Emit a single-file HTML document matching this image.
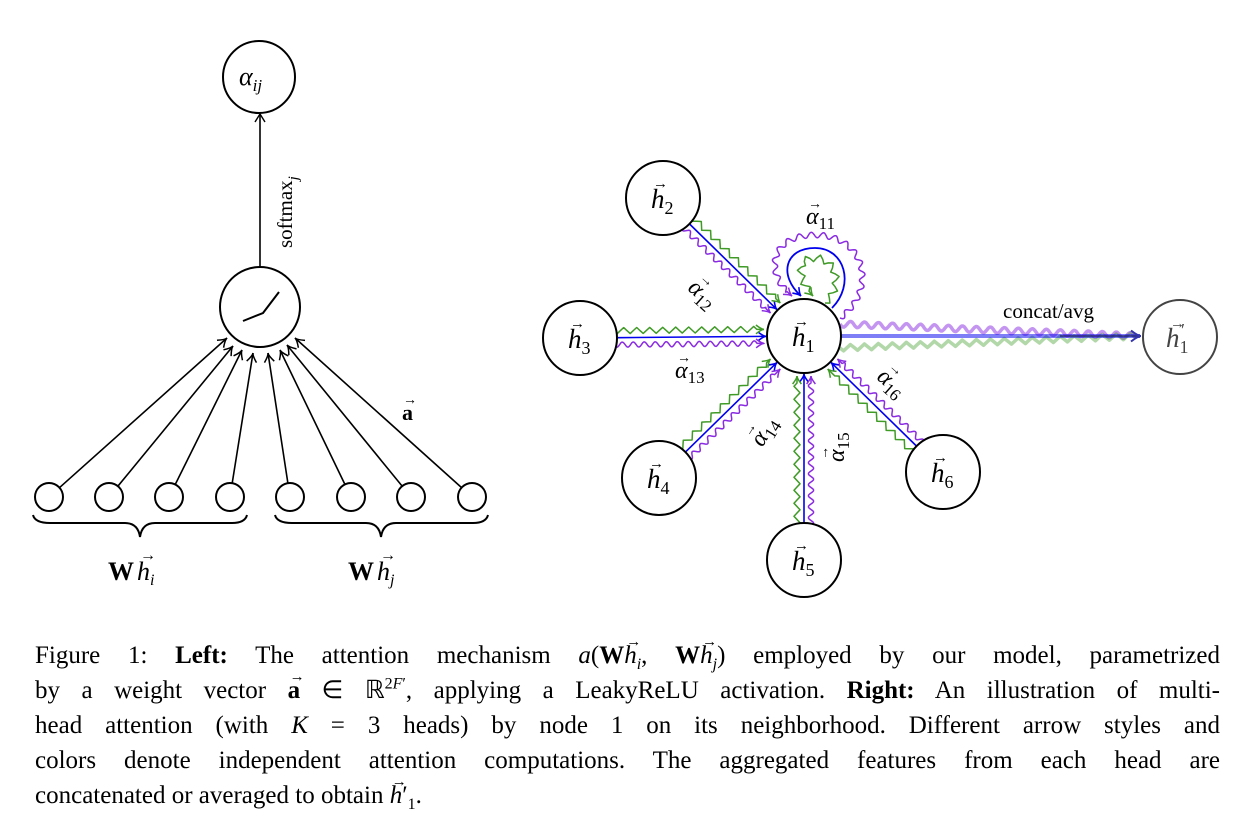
<!DOCTYPE html>
<html><head><meta charset="utf-8">
<style>
body{margin:0;background:#fff;width:1240px;height:836px;overflow:hidden;position:relative}
svg{position:absolute;left:0;top:0}
.m{font-family:"Liberation Serif",serif;font-style:italic}
.cap{position:absolute;left:35px;width:1185px;top:638px;font-family:"Liberation Serif",serif;font-size:25px;color:#000}
.cap div{height:35px;line-height:35px;text-align:justify;text-align-last:justify;white-space:nowrap}
.cap div.last{text-align-last:left}
.cap sub,.cap sup{line-height:0;font-size:16px}
.v{position:relative;display:inline-block}
.v::before{content:"\2192";position:absolute;font-size:15px;top:-13px;left:2px;font-style:normal;line-height:35px}
</style></head><body>
<svg id="s" width="1240" height="620" viewBox="0 0 1240 620">
<g fill="none" stroke="#000" stroke-width="2">
<circle cx="259" cy="77" r="36"/>
<circle cx="260" cy="307" r="40"/>
<polyline points="243,321 263,313 279,292"/>
<line x1="260" y1="267" x2="260" y2="114" stroke-width="1.6"/>
<polyline points="255,122 260,114 265,122" stroke-width="1.4"/>
<path d="M33 515 Q35 523 50 523 L125 523 Q138 523 140 537 Q142 523 155 523 L232 523 Q245 523 247 515"/>
<path d="M275 515 Q277 523 292 523 L366 523 Q379 523 381 537 Q383 523 396 523 L473 523 Q486 523 488 515"/>
</g>
<g id="left"></g>
<g id="right"></g>
<g font-family="Liberation Serif,serif" font-size="26">
<text x="239" y="85" class="m">α<tspan font-size="17" dy="6">ij</tspan></text>
<text transform="translate(292,248) rotate(-90)" font-size="21" font-style="normal">softmax<tspan font-size="15" dy="6" font-style="italic">j</tspan></text>
<text x="402" y="420" font-weight="bold" font-size="22">a</text>
<text x="403" y="404" font-size="14">→</text>
<text x="108" y="580" font-weight="bold">W</text><text x="137" y="580" class="m">h<tspan font-size="16" dy="5">i</tspan></text><text x="140" y="560" font-size="16">→</text>
<text x="348" y="580" font-weight="bold">W</text><text x="377" y="580" class="m">h<tspan font-size="16" dy="5">j</tspan></text><text x="380" y="560" font-size="16">→</text>
</g>
</svg>
<div class="cap">
<div>Figure 1: <b>Left:</b> The attention mechanism <i>a</i>(<b>W</b><i class="v">h</i><sub><i>i</i></sub>, <b>W</b><i class="v">h</i><sub><i>j</i></sub>) employed by our model, parametrized</div>
<div>by a weight vector <b class="v">a</b> ∈ ℝ<sup>2<i>F</i>′</sup>, applying a LeakyReLU activation. <b>Right:</b> An illustration of multi-</div>
<div>head attention (with <i>K</i> = 3 heads) by node 1 on its neighborhood. Different arrow styles and</div>
<div>colors denote independent attention computations. The aggregated features from each head are</div>
<div class="last">concatenated or averaged to obtain <i class="v">h</i>′<sub>1</sub>.</div>
</div>
<script>
var NS="http://www.w3.org/2000/svg",S=document.getElementById('s');
function el(t,a,p){var e=document.createElementNS(NS,t);for(var k in a)e.setAttribute(k,a[k]);(p||S).appendChild(e);return e;}
var L=document.getElementById('left'),R=document.getElementById('right');
function arrowHead(g,x,y,dx,dy,col,w,sz){var n=Math.hypot(dx,dy);dx/=n;dy/=n;var s=sz||8;
 var px=-dy,py=dx;
 el('path',{d:'M'+(x-dx*s+px*s*0.55)+' '+(y-dy*s+py*s*0.55)+' Q'+(x-dx*s*0.3)+' '+(y-dy*s*0.3)+' '+x+' '+y+' Q'+(x-dx*s*0.3)+' '+(y-dy*s*0.3)+' '+(x-dx*s-px*s*0.55)+' '+(y-dy*s-py*s*0.55),fill:'none',stroke:col,'stroke-width':w},g);}
var sx=[49,109,169,230,290,351,411,472],tg=[[227,338],[233,346],[242,350],[253,353],[268,353],[280,350],[287,345],[295,338]];
for(var i=0;i<8;i++){el('circle',{cx:sx[i],cy:497,r:14,fill:'#fff',stroke:'#000','stroke-width':2},L);
 var tx=tg[i][0],ty=tg[i][1],dx=tx-sx[i],dy=ty-497,n=Math.hypot(dx,dy);
 var x0=sx[i]+dx/n*14,y0=497+dy/n*14;
 el('line',{x1:x0,y1:y0,x2:tx,y2:ty,stroke:'#000','stroke-width':1.6},L);arrowHead(L,tx,ty,dx,dy,'#000',1.5,9);}
function wavy(d,amp,wl,zig,col,w,op,arrow){var tp=el('path',{d:d,fill:'none'});var len=tp.getTotalLength();var pts=[];
 for(var s=0;s<=len;s+=(zig?wl/4:1)){var p=tp.getPointAtLength(s),q=tp.getPointAtLength(Math.min(len,s+0.5)),r0=tp.getPointAtLength(Math.max(0,s-0.5));
  var tx=q.x-r0.x,ty=q.y-r0.y,n=Math.hypot(tx,ty)||1;var nx=-ty/n,ny=tx/n;var ph=s/wl;
  var f=zig?[0,1,0,-1][Math.round(ph*4)%4]:Math.sin(ph*2*Math.PI);if(s>len-7)f=0;
  pts.push((p.x+nx*amp*f).toFixed(1)+','+(p.y+ny*amp*f).toFixed(1));}
 var e=tp.getPointAtLength(len);pts.push(e.x+','+e.y);var b=tp.getPointAtLength(len-2);S.removeChild(tp);
 el('polyline',{points:pts.join(' '),fill:'none',stroke:col,'stroke-width':w,opacity:op,'stroke-linejoin':'round'},R);
 if(arrow){arrowHead(R,e.x,e.y,e.x-b.x,e.y-b.y,col,w,8);}}
var G='#3f9a26',P='#8a2be2',B='#0000ee';
var C=[804,336],r=37,N=[[663,198],[580,338],[659,478],[804,560],[943,472]];
N.forEach(function(c){var dx=C[0]-c[0],dy=C[1]-c[1],n=Math.hypot(dx,dy),ux=dx/n,uy=dy/n,nx=uy,ny=-ux;
 var sx=c[0]+ux*r,sy=c[1]+uy*r,ex=C[0]-ux*(r+1),ey=C[1]-uy*(r+1);
 el('line',{x1:sx,y1:sy,x2:ex,y2:ey,stroke:B,'stroke-width':1.6},R);arrowHead(R,ex,ey,ux,uy,B,1.6,8);
 [[7,G,1],[-7,P,0]].forEach(function(o){var k=o[0];var a0=c[0]+ux*(r-3)+nx*k,b0=c[1]+uy*(r-3)+ny*k;var a1=C[0]-ux*(r+3)+nx*k,b1=C[1]-uy*(r+3)+ny*k;
  wavy('M'+a0+' '+b0+' L'+a1+' '+b1,o[2]?3:2.6,o[2]?13:11,o[2],o[1],1.5,1,true);});});
el('path',{d:'M832 308 C855 285,845 248,815 248 C785 248,778 275,801 296',fill:'none',stroke:B,'stroke-width':1.8},R);arrowHead(R,801,296,1,1.1,B,1.6,8);
wavy('M840 318 C878 290,866 235,815 235 C768 235,765 275,792 296',2.8,12,0,P,1.5,1,true);
wavy('M825 303 C845 285,835 258,815 258 C795 258,798 280,813 296',3.5,13,1,G,1.5,1,true);
wavy('M840 324 L1140 336',3,14,0,P,3.5,0.5,false);
wavy('M840 348 L1140 336',3,14,1,G,3.5,0.4,false);
el('line',{x1:841,y1:336,x2:1140,y2:336,stroke:B,'stroke-width':4,opacity:0.5},R);
el('line',{x1:1060,y1:336,x2:1140,y2:336,stroke:'#222266','stroke-width':2,opacity:0.6},R);
arrowHead(R,1141,336,1,0,'#3333aa',2,10);
var labs=[[C,'1'],[N[0],'2'],[N[1],'3'],[N[2],'4'],[N[3],'5'],[N[4],'6']];
labs.forEach(function(l){el('circle',{cx:l[0][0],cy:l[0][1],r:r,fill:'#fff',stroke:'#000','stroke-width':2},R);
 var t=el('text',{x:l[0][0]-12,y:l[0][1]+10,'font-family':'Liberation Serif,serif','font-size':27,'font-style':'italic'},R);t.innerHTML='h<tspan font-size="18" dy="6" font-style="normal">'+l[1]+'</tspan>';
 el('text',{x:l[0][0]-10,y:l[0][1]-10,'font-family':'Liberation Serif,serif','font-size':15},R).textContent='→';});
el('circle',{cx:1180,cy:337,r:37,fill:'#fff',stroke:'#444','stroke-width':2},R);
var t=el('text',{x:1166,y:347,'font-family':'Liberation Serif,serif','font-size':27,'font-style':'italic',fill:'#444'},R);t.innerHTML='h<tspan font-size="18" dy="6" font-style="normal">1</tspan>';
el('text',{x:1170,y:328,'font-family':'Liberation Serif,serif','font-size':15,fill:'#444'},R).textContent='→';
el('text',{x:1181,y:336,'font-family':'Liberation Serif,serif','font-size':18,fill:'#444'},R).textContent='′';
el('text',{x:1003,y:318,'font-family':'Liberation Serif,serif','font-size':21},R).textContent='concat/avg';
function al(x,y,rot,sub){var g=el('g',{transform:'translate('+x+','+y+') rotate('+rot+')'},R);
 var t=el('text',{x:-16,y:8,'font-family':'Liberation Serif,serif','font-size':24,'font-style':'italic'},g);t.innerHTML='α<tspan font-size="17" dy="5" font-style="normal">'+sub+'</tspan>';
 el('text',{x:-14,y:-8,'font-family':'Liberation Serif,serif','font-size':14},g).textContent='→';}
al(822,216,0,'11');al(704,294,42,'12');al(691,370,0,'13');al(764,430,-58,'14');al(836,446,-90,'15');al(893,383,42,'16');
</script>
</body></html>
